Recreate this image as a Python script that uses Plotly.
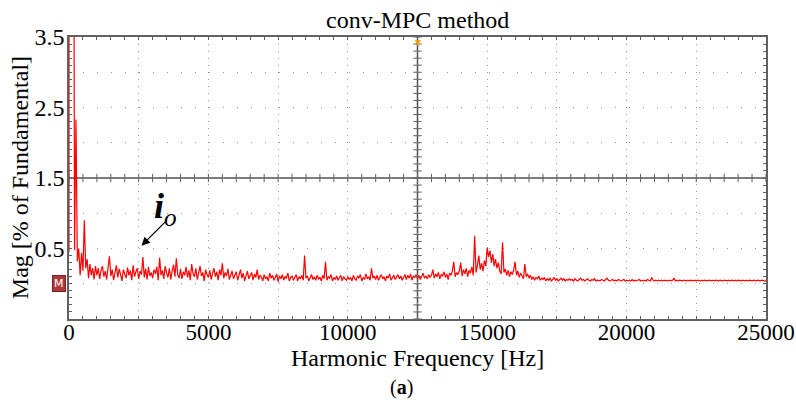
import numpy as np
import plotly.graph_objects as go

# ---------------- data ----------------
freq_step_hz = 50
mag_rows = [
    [0.45, 100, 18, 6.5, 0.48, 2.33, 0.32, 0.5, 0.12, 0.44, 0.18, 0.9, 0.22, 0.35, 0.08, 0.28, 0.12, 0.22, 0.06, 0.25],
    [0.12, 0.22, 0.07, 0.19, 0.25, 0.1, 0.18, 0.06, 0.24, 0.39, 0.11, 0.2, 0.05, 0.17, 0.26, 0.09, 0.21, 0.13, 0.04, 0.2],
    [0.15, 0.08, 0.23, 0.12, 0.19, 0.05, 0.26, 0.1, 0.17, 0.22, 0.07, 0.18, 0.13, 0.38, 0.09, 0.21, 0.06, 0.24, 0.11, 0.16],
    [0.08, 0.2, 0.14, 0.24, 0.05, 0.37, 0.12, 0.19, 0.07, 0.25, 0.15, 0.09, 0.22, 0.06, 0.18, 0.27, 0.1, 0.36, 0.13, 0.08],
    [0.21, 0.07, 0.17, 0.12, 0.24, 0.09, 0.19, 0.05, 0.28, 0.14, 0.1, 0.22, 0.06, 0.18, 0.25, 0.11, 0.16, 0.04, 0.2, 0.13],
    [0.09, 0.19, 0.06, 0.15, 0.22, 0.1, 0.17, 0.05, 0.2, 0.12, 0.29, 0.08, 0.16, 0.11, 0.21, 0.06, 0.14, 0.18, 0.07, 0.13],
    [0.17, 0.05, 0.12, 0.2, 0.08, 0.15, 0.04, 0.13, 0.18, 0.07, 0.11, 0.16, 0.05, 0.14, 0.09, 0.2, 0.06, 0.12, 0.1, 0.04],
    [0.13, 0.07, 0.1, 0.04, 0.15, 0.08, 0.12, 0.05, 0.09, 0.14, 0.03, 0.11, 0.07, 0.13, 0.05, 0.1, 0.08, 0.15, 0.04, 0.09],
    [0.11, 0.05, 0.09, 0.13, 0.04, 0.1, 0.07, 0.12, 0.05, 0.4, 0.08, 0.11, 0.04, 0.09, 0.13, 0.06, 0.1, 0.05, 0.12, 0.07],
    [0.09, 0.04, 0.12, 0.07, 0.31, 0.05, 0.1, 0.08, 0.13, 0.04, 0.09, 0.06, 0.11, 0.05, 0.08, 0.12, 0.04, 0.1, 0.07, 0.05],
    [0.1, 0.06, 0.09, 0.04, 0.12, 0.07, 0.05, 0.11, 0.08, 0.13, 0.04, 0.09, 0.06, 0.14, 0.07, 0.1, 0.05, 0.22, 0.08, 0.11],
    [0.06, 0.12, 0.05, 0.09, 0.13, 0.07, 0.1, 0.04, 0.11, 0.08, 0.14, 0.05, 0.09, 0.12, 0.06, 0.1, 0.13, 0.07, 0.11, 0.05],
    [0.1, 0.13, 0.06, 0.12, 0.08, 0.14, 0.05, 0.11, 0.09, 0.13, 0.07, 0.12, 0.06, 0.1, 0.15, 0.08, 0.11, 0.07, 0.13, 0.09],
    [0.12, 0.2, 0.08, 0.14, 0.1, 0.16, 0.07, 0.13, 0.11, 0.17, 0.09, 0.14, 0.06, 0.15, 0.12, 0.18, 0.31, 0.1, 0.16, 0.13],
    [0.18, 0.3, 0.11, 0.2, 0.14, 0.22, 0.1, 0.19, 0.15, 0.24, 0.12, 0.68, 0.16, 0.26, 0.4, 0.2, 0.29, 0.18, 0.33, 0.25],
    [0.51, 0.38, 0.47, 0.3, 0.42, 0.25, 0.35, 0.22, 0.3, 0.18, 0.14, 0.59, 0.16, 0.21, 0.12, 0.19, 0.1, 0.17, 0.13, 0.2],
    [0.31, 0.12, 0.18, 0.09, 0.15, 0.11, 0.07, 0.28, 0.1, 0.14, 0.08, 0.12, 0.06, 0.1, 0.05, 0.09, 0.07, 0.11, 0.05, 0.08],
    [0.06, 0.09, 0.04, 0.07, 0.05, 0.08, 0.04, 0.06, 0.09, 0.05, 0.07, 0.04, 0.06, 0.08, 0.05, 0.07, 0.04, 0.06, 0.05, 0.07],
    [0.05, 0.06, 0.04, 0.07, 0.05, 0.04, 0.06, 0.08, 0.05, 0.06, 0.04, 0.05, 0.07, 0.05, 0.04, 0.06, 0.05, 0.07, 0.04, 0.05],
    [0.05, 0.04, 0.06, 0.05, 0.04, 0.06, 0.08, 0.05, 0.04, 0.05, 0.06, 0.04, 0.05, 0.04, 0.06, 0.05, 0.04, 0.05, 0.06, 0.04],
    [0.05, 0.04, 0.05, 0.04, 0.06, 0.04, 0.05, 0.04, 0.05, 0.06, 0.04, 0.05, 0.04, 0.05, 0.04, 0.06, 0.05, 0.04, 0.09, 0.05],
    [0.04, 0.05, 0.04, 0.05, 0.04, 0.05, 0.04, 0.05, 0.04, 0.05, 0.04, 0.05, 0.04, 0.05, 0.08, 0.04, 0.05, 0.04, 0.05, 0.04],
    [0.04, 0.05, 0.04, 0.04, 0.05, 0.04, 0.05, 0.04, 0.04, 0.05, 0.04, 0.05, 0.04, 0.04, 0.05, 0.04, 0.05, 0.04, 0.04, 0.05],
    [0.04, 0.04, 0.05, 0.04, 0.05, 0.04, 0.04, 0.05, 0.04, 0.04, 0.05, 0.04, 0.04, 0.05, 0.04, 0.05, 0.04, 0.04, 0.05, 0.04],
    [0.05, 0.04, 0.04, 0.05, 0.04, 0.04, 0.05, 0.04, 0.05, 0.04, 0.04, 0.05, 0.04, 0.04, 0.05, 0.04, 0.04, 0.05, 0.04, 0.04],
]
mag_last = [0.04]

x_tick_vals = [0, 5000, 10000, 15000, 20000, 25000]
x_tick_text = ["0", "5000", "10000", "15000", "20000", "25000"]
y_tick_vals = [0.5, 1.5, 2.5, 3.5]
y_tick_text = ["0.5", "1.5", "2.5", "3.5"]
x_range = [0, 25000]
y_range = [-0.5, 3.5]

title_text = "conv-MPC method"
x_title = "Harmonic Frequency [Hz]"
y_title = "Mag [% of Fundamental]"
caption = "(<b>a</b>)"

# ---------------- build ----------------
mag = [v for row in mag_rows for v in row] + mag_last
freq = [i * freq_step_hz for i in range(len(mag))]

FONT = "Liberation Serif"
GRID = "#9a9a9a"
AXC = "#606060"

fig = go.Figure()
fig.add_trace(go.Scatter(x=freq, y=mag, mode="lines",
                         line=dict(color="#ff0000", width=1.2), showlegend=False,
                         hoverinfo="skip"))

# crosshair tick marks (decorative, on overlay axes)
cx = (x_range[0] + x_range[1]) / 2
cy = (y_range[0] + y_range[1]) / 2
yt = np.arange(y_range[0], y_range[1] + 1e-9, 0.1)
xt = np.arange(x_range[0], x_range[1] + 1e-9, 500)
fig.add_trace(go.Scatter(x=[cx] * len(yt), y=yt, mode="markers",
                         marker=dict(symbol="line-ew", size=6,
                                     line=dict(color=AXC, width=1)),
                         xaxis="x2", yaxis="y2", showlegend=False, hoverinfo="skip"))
fig.add_trace(go.Scatter(x=xt, y=[cy] * len(xt), mode="markers",
                         marker=dict(symbol="line-ns", size=6,
                                     line=dict(color=AXC, width=1)),
                         xaxis="x2", yaxis="y2", showlegend=False, hoverinfo="skip"))

fig.update_layout(
    width=796, height=403,
    margin=dict(l=69, r=30, t=37, b=84, autoexpand=False),
    paper_bgcolor="white", plot_bgcolor="white",
    font=dict(family=FONT, size=24, color="black"),
    xaxis=dict(range=x_range, tickvals=x_tick_vals, ticktext=x_tick_text,
               showgrid=True, gridcolor=GRID, griddash="1px,6px", gridwidth=1,
               minor=dict(tick0=0, dtick=2500, showgrid=True, gridcolor=GRID,
                          griddash="1px,6px", gridwidth=1, ticks=""),
               ticks="", zeroline=False, showline=True, linecolor=AXC,
               linewidth=1.5, mirror=True, automargin=False,
               ticklabelstandoff=-8,
               tickfont=dict(size=23, family=FONT, color="black")),
    yaxis=dict(range=y_range, tickvals=y_tick_vals, ticktext=y_tick_text,
               showgrid=True, gridcolor=GRID, griddash="1px,13px", gridwidth=1,
               minor=dict(tick0=0, dtick=0.5, showgrid=True, gridcolor=GRID,
                          griddash="1px,13px", gridwidth=1, ticks=""),
               ticks="", zeroline=False, showline=True, linecolor=AXC,
               linewidth=1.5, mirror=True, automargin=False,
               ticklabelstandoff=-2,
               tickfont=dict(size=24, family=FONT, color="black")),
    xaxis2=dict(overlaying="x", anchor="y2", range=x_range, dtick=500, tick0=0,
                ticks="inside", ticklen=3, tickcolor=AXC, mirror="ticks",
                showline=True, linecolor=AXC, showticklabels=False,
                showgrid=False, zeroline=False),
    yaxis2=dict(overlaying="y", anchor="x2", range=y_range, dtick=0.1, tick0=-0.5,
                ticks="inside", ticklen=3, tickcolor=AXC, mirror="ticks",
                showline=True, linecolor=AXC, showticklabels=False,
                showgrid=False, zeroline=False),
    shapes=[
        dict(type="line", xref="x", yref="paper", x0=cx, x1=cx, y0=0, y1=1,
             line=dict(color="#505050", width=1.5), layer="below"),
        dict(type="line", xref="paper", yref="y", x0=0, x1=1, y0=cy, y1=cy,
             line=dict(color="#505050", width=1.5), layer="below"),
    ],
    annotations=[
        dict(text=title_text, xref="paper", yref="paper", x=0.5, y=1.0,
             yanchor="bottom", yshift=2, showarrow=False,
             font=dict(size=24, family=FONT, color="black")),
        dict(text=x_title, xref="paper", yref="paper", x=0.5, y=-0.137,
             yanchor="middle", showarrow=False,
             font=dict(size=24, family=FONT, color="black")),
        dict(text=y_title, xref="paper", yref="paper", x=-0.07, y=0.5,
             textangle=-90, xanchor="center", yanchor="middle",
             showarrow=False, font=dict(size=24, family=FONT, color="black")),
        dict(text=caption, xref="paper", yref="paper", x=0.477, y=-0.292,
             yanchor="bottom", showarrow=False,
             font=dict(size=20, family=FONT, color="black")),
        # arrow pointing at the spectrum
        dict(x=2600, y=0.54, ax=3560, ay=0.92, xref="x", yref="y",
             axref="x", ayref="y", text="", showarrow=True,
             arrowhead=2, arrowsize=1.3, arrowwidth=1.3, arrowcolor="black"),
        dict(text="<b><i>i</i></b><sub><i>o</i></sub>", x=3450, y=1.07, xref="x", yref="y",
             showarrow=False, font=dict(size=36, family=FONT, color="black")),
        # PSIM style marker at the left of the axis
        dict(text="M", xref="paper", yref="y", x=-0.004, y=0.0,
             xanchor="right", yanchor="middle", showarrow=False,
             font=dict(size=11, color="white", family="DejaVu Sans"),
             bgcolor="#b03a3a", bordercolor="#7a1f1f", borderwidth=1, borderpad=1),
        # orange cursor marker at the top
        dict(text="▼", xref="x", yref="paper", x=cx, y=1.0, yanchor="top",
             showarrow=False, yshift=2, font=dict(size=10, color="#f5a000")),
    ],
)

fig.write_html("out.html")
